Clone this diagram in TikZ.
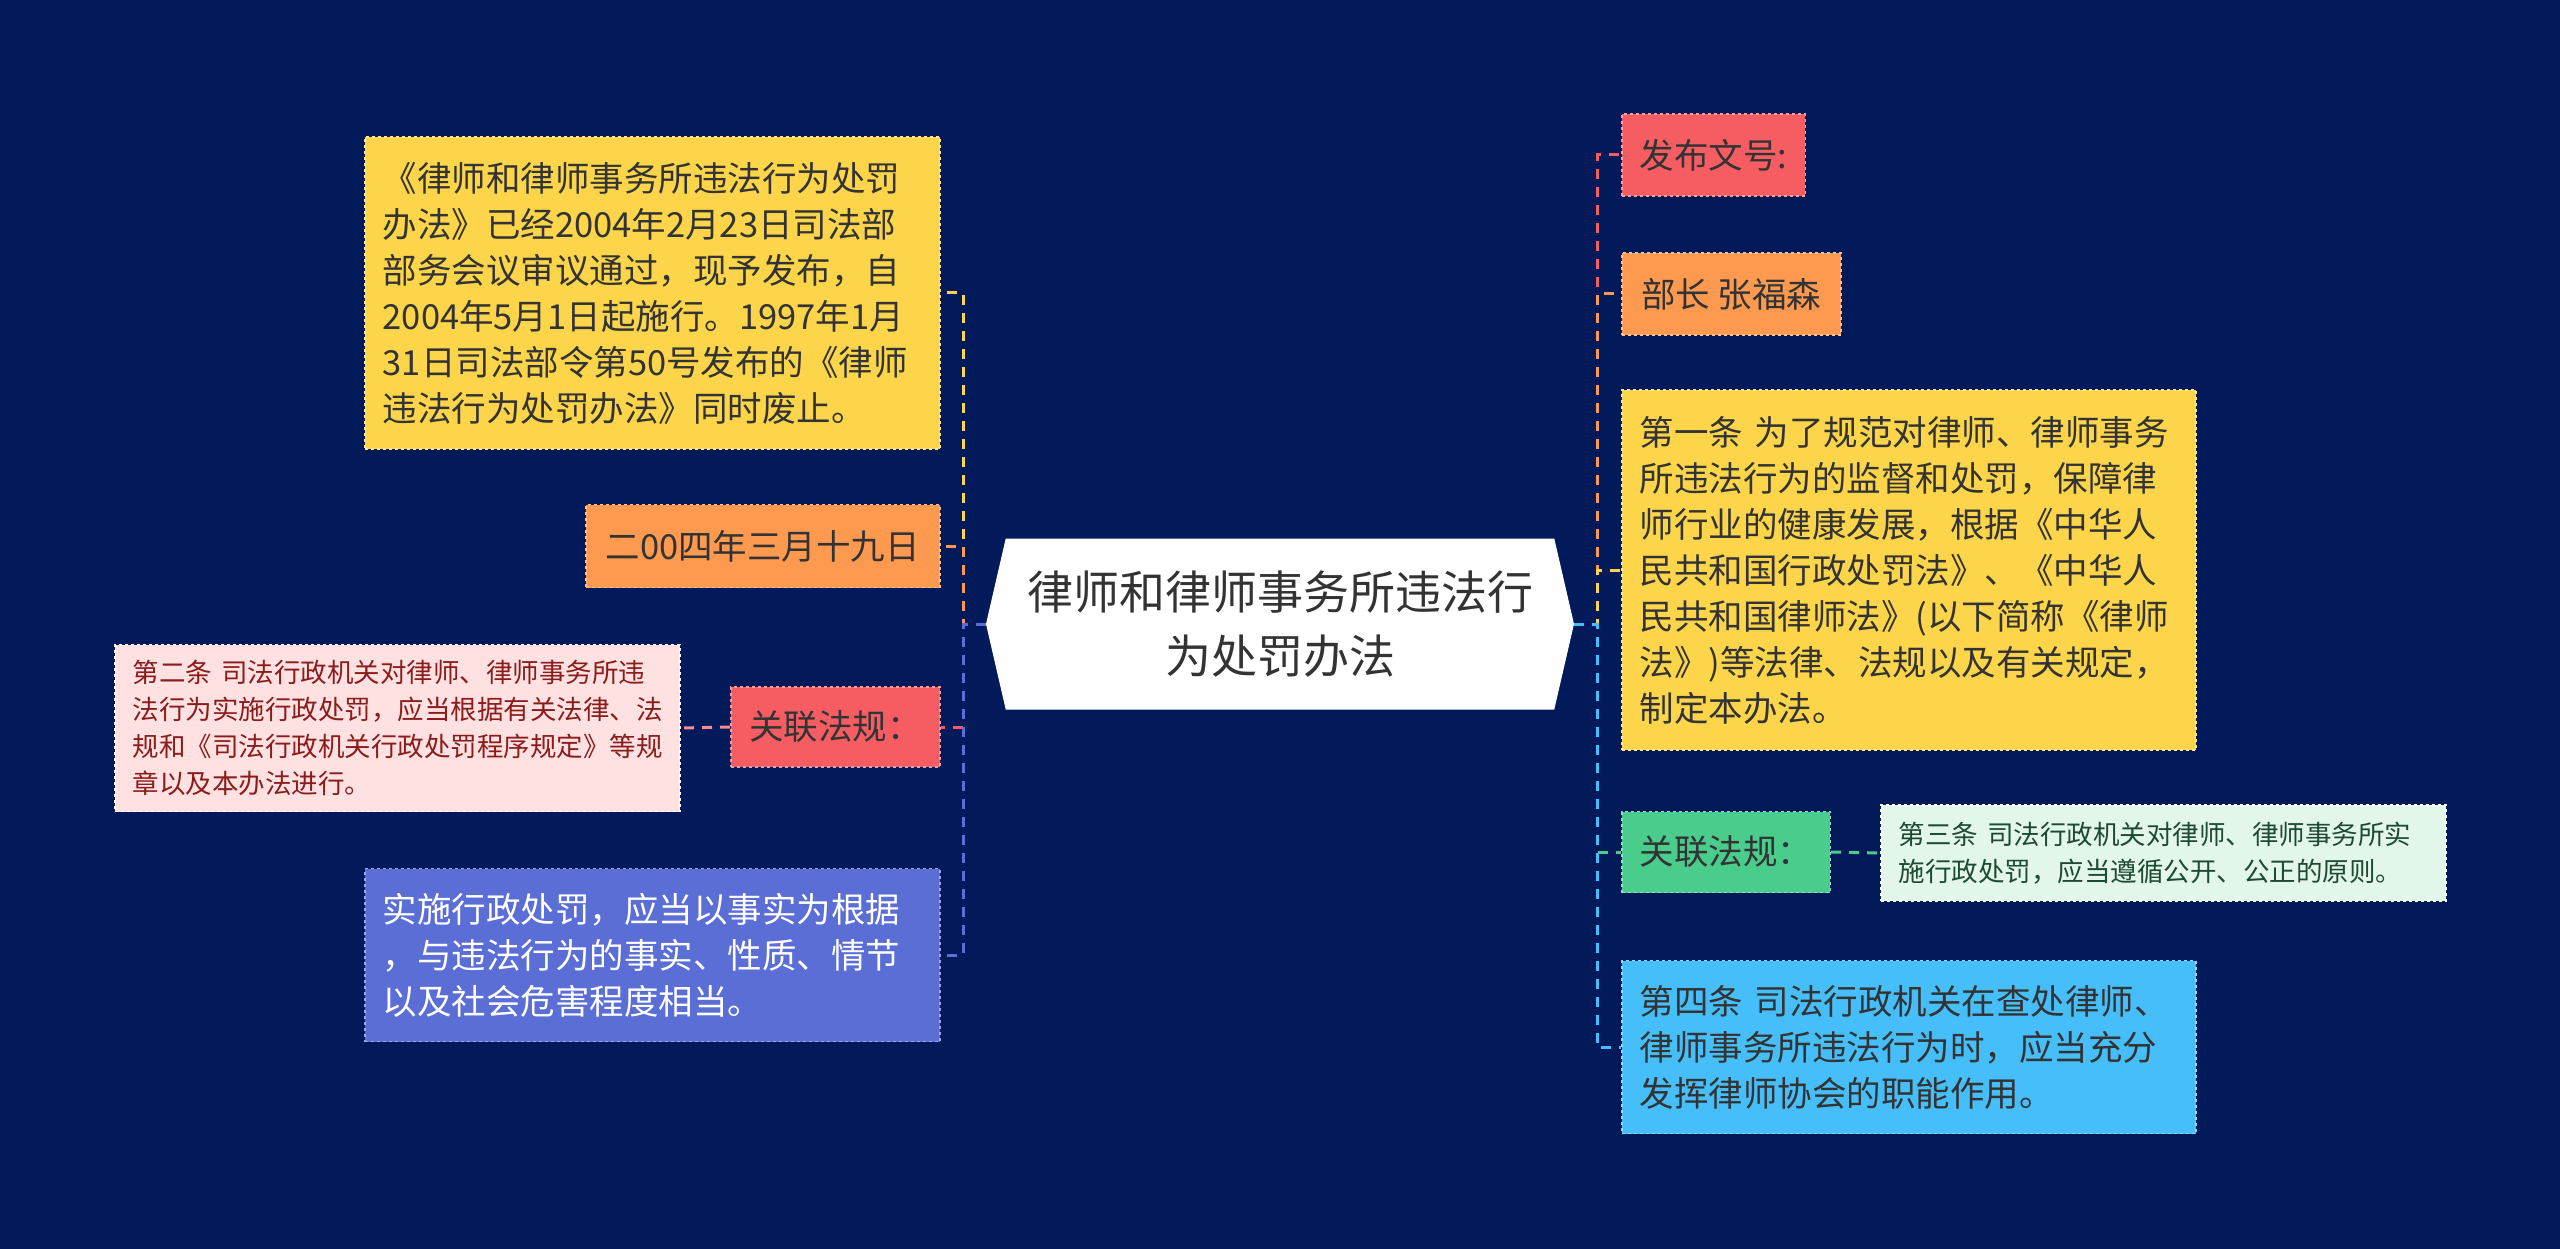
\documentclass[tikz,border=0pt]{standalone}
\usepackage{fontspec}
\setmainfont{Noto Sans CJK SC}
\usetikzlibrary{shapes.symbols}
\definecolor{navy}{HTML}{02195A}
\definecolor{cyellow}{HTML}{FDD54A}
\definecolor{corange}{HTML}{FD9A50}
\definecolor{cred}{HTML}{F55D63}
\definecolor{cpink}{HTML}{FFE1E1}
\definecolor{cblue}{HTML}{5A6ED5}
\definecolor{cgreen}{HTML}{4ACC8C}
\definecolor{clgreen}{HTML}{E2F6EA}
\definecolor{ccyan}{HTML}{46BEFA}
\definecolor{ctext}{HTML}{333333}
\definecolor{cdred}{HTML}{8A1C1C}
\definecolor{cdgreen}{HTML}{1E4A32}
\begin{document}
\begin{tikzpicture}[x=1pt,y=-1pt,
  leaf/.style={rectangle,anchor=west,align=left,dashed,line width=1.5pt,
    inner xsep=18pt,inner ysep=0pt,text=ctext,
    font=\fontsize{34.5}{46}\selectfont},
  small/.style={leaf,font=\fontsize{26.5}{37}\selectfont},
  branch/.style={dashed,dash pattern=on 10pt off 8pt,line width=3pt}]
\useasboundingbox (0,0) rectangle (2560,1249);
\fill[navy] (0,0) rectangle (2560,1249);
% root
\node[shape=signal,signal to=west and east,signal pointer angle=154,
  fill=white,minimum width=588pt,minimum height=171pt,align=center,
  text=ctext,font=\fontsize{46}{64}\selectfont] (root) at (1280,624)
  {律师和律师事务所违法行\\为处罚办法};
\coordinate (ltrunk) at (963,624);
\coordinate (rtrunk) at (1597,624);
% left side
\node[leaf,fill=cyellow,draw=cyellow!60!white,text width=539pt,minimum height=312pt] (ly) at (364,293)
  {《律师和律师事务所违法行为处罚\\办法》已经2004年2月23日司法部\\部务会议审议通过，现予发布，自\\2004年5月1日起施行。1997年1月\\31日司法部令第50号发布的《律师\\违法行为处罚办法》同时废止。};
\node[leaf,fill=corange,draw=corange!60!white,minimum width=354pt,minimum height=83pt] (lo) at (585,546)
  {二00四年三月十九日};
\node[leaf,fill=cred,draw=cred!60!white,minimum width=209pt,minimum height=80pt] (lr) at (730,727)
  {关联法规：};
\node[small,fill=cpink,draw=white,text=cdred,text width=529pt,minimum height=167pt] (lp) at (114,728)
  {第二条~司法行政机关对律师、律师事务所违\\法行为实施行政处罚，应当根据有关法律、法\\规和《司法行政机关行政处罚程序规定》等规\\章以及本办法进行。};
\node[leaf,fill=cblue,draw=cblue!60!white,text=white,text width=539pt,minimum height=173pt] (lb) at (364,955)
  {实施行政处罚，应当以事实为根据\\，与违法行为的事实、性质、情节\\以及社会危害程度相当。};
% right side
\node[leaf,fill=cred,draw=cred!60!white,minimum width=182pt,minimum height=82pt] (rr) at (1621,155)
  {发布文号:};
\node[leaf,fill=corange,draw=corange!60!white,minimum width=219pt,minimum height=82pt] (ro) at (1621,294)
  {部长 张福森};
\node[leaf,fill=cyellow,draw=cyellow!60!white,text width=538pt,minimum height=360pt] (ry) at (1621,570)
  {第一条~为了规范对律师、律师事务\\所违法行为的监督和处罚，保障律\\师行业的健康发展，根据《中华人\\民共和国行政处罚法》、《中华人\\民共和国律师法》(以下简称《律师\\法》)等法律、法规以及有关规定，\\制定本办法。};
\node[leaf,fill=cgreen,draw=cgreen!60!white,minimum width=208pt,minimum height=81pt] (rg) at (1621,852)
  {关联法规：};
\node[small,fill=clgreen,draw=white,text=cdgreen,text width=529pt,minimum height=96pt] (rl) at (1880,853)
  {第三条~司法行政机关对律师、律师事务所实\\施行政处罚，应当遵循公开、公正的原则。};
\node[leaf,fill=ccyan,draw=ccyan!60!white,text width=538pt,minimum height=173pt] (rc) at (1621,1047)
  {第四条~司法行政机关在查处律师、\\律师事务所违法行为时，应当充分\\发挥律师协会的职能作用。};
% connectors
\draw[branch,cyellow] (root.west) -- (ltrunk) |- (ly.east);
\draw[branch,corange] (root.west) -- (ltrunk) |- (lo.east);
\draw[branch,cred] (root.west) -- (ltrunk) |- (lr.east);
\draw[branch,cblue] (root.west) -- (ltrunk) |- (lb.east);
\draw[branch,cred!70!white] (lr.west) -- (lp.east);
\draw[branch,cred] (root.east) -- (rtrunk) |- (rr.west);
\draw[branch,corange] (root.east) -- (rtrunk) |- (ro.west);
\draw[branch,cyellow] (root.east) -- (rtrunk) |- (ry.west);
\draw[branch,cgreen] (root.east) -- (rtrunk) |- (rg.west);
\draw[branch,ccyan] (root.east) -- (rtrunk) |- (rc.west);
\draw[branch,cgreen] (rg.east) -- (rl.west);
\end{tikzpicture}
\end{document}
